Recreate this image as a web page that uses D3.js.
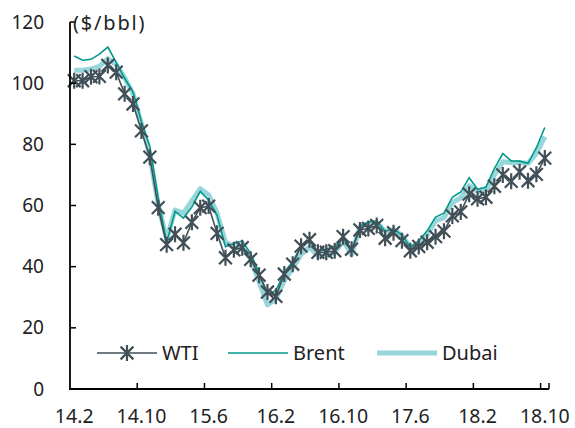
<!DOCTYPE html>
<html>
<head>
<meta charset="utf-8">
<script src="https://cdn.jsdelivr.net/npm/d3@7"></script>
<style>
  body { margin: 0; background: #fff; }
  text { font-family: "Noto Sans", sans-serif; fill: #222; }
</style>
</head>
<body>
<div id="chart"></div>
<script>
var svgWidth = 575;
var svgHeight = 428;

// months 2014.2 .. 2018.10
var months = [];
for (var yr = 14; yr <= 18; yr++) {
  for (var m = 1; m <= 12; m++) {
    if ((yr === 14 && m < 2) || (yr === 18 && m > 10)) continue;
    months.push(yr + "." + m);
  }
}

var tickLabels = ["14.2", "14.10", "15.6", "16.2", "16.10", "17.6", "18.2", "18.10"];
var yTicks = [0, 20, 40, 60, 80, 100, 120];

var wti = [100.8, 100.8, 102.1, 102.2, 105.8, 103.6, 96.5, 93.2, 84.4, 75.8, 59.3,
  47.2, 50.6, 47.8, 54.5, 59.3, 59.8, 50.9, 42.9, 45.5, 46.2, 42.4, 37.2,
  31.7, 30.3, 37.6, 40.8, 46.7, 48.8, 44.7, 44.7, 45.2, 49.8, 45.7, 52.0,
  52.5, 53.5, 49.3, 51.1, 48.5, 45.2, 46.6, 48.0, 49.8, 51.6, 56.6, 57.9,
  63.7, 62.2, 62.7, 66.3, 70.0, 67.9, 71.0, 68.1, 70.2, 75.5];

var brent = [108.9, 107.5, 107.8, 109.5, 111.8, 106.8, 101.6, 97.1, 87.4, 79.4, 62.3,
  47.8, 58.1, 55.9, 59.5, 64.6, 61.7, 56.8, 46.5, 47.6, 48.4, 44.3, 38.0,
  30.7, 32.2, 38.2, 41.6, 46.7, 48.3, 44.9, 45.8, 46.6, 49.5, 44.8, 53.3,
  54.6, 54.9, 51.6, 52.3, 50.3, 46.4, 48.5, 51.7, 56.2, 57.5, 62.7, 64.4,
  69.1, 65.3, 66.0, 72.1, 77.0, 74.6, 74.5, 73.8, 78.9, 85.5];

var dubai = [104.2, 104.2, 104.6, 105.5, 108.0, 106.0, 101.8, 96.6, 86.7, 76.4, 60.2,
  49.0, 58.5, 57.5, 61.5, 65.5, 63.5, 57.5, 48.0, 46.5, 46.5, 42.5, 35.0,
  27.5, 29.5, 35.5, 39.5, 44.0, 46.5, 43.5, 44.0, 44.5, 48.5, 44.0, 53.0,
  54.0, 54.5, 51.5, 52.2, 50.2, 46.2, 47.5, 50.4, 55.0, 56.0, 61.0, 62.5,
  66.5, 64.5, 65.0, 70.0, 74.3, 74.0, 74.0, 73.8, 77.0, 82.5];

var svg = d3.select("#chart")
  .append("svg")
  .attr("width", svgWidth)
  .attr("height", svgHeight);

var x = d3.scaleBand()
  .domain(d3.range(months.length))
  .range([70, 549])
  .padding(0);

var y = d3.scaleLinear()
  .domain([0, 120])
  .range([389, 22]);

var cx = function(i) { return x(i) + x.bandwidth() / 2; };

// lines
var line = d3.line()
  .x(function(d, i) { return cx(i); })
  .y(function(d) { return y(d); });

svg.append("path")
  .datum(dubai)
  .attr("fill", "none")
  .attr("stroke", "#97d6da")
  .attr("stroke-width", 5)
  .attr("stroke-linejoin", "round")
  .attr("d", line);

svg.append("path")
  .datum(brent)
  .attr("fill", "none")
  .attr("stroke", "#00998a")
  .attr("stroke-width", 1.6)
  .attr("d", line);

svg.append("path")
  .datum(wti)
  .attr("fill", "none")
  .attr("stroke", "#414f57")
  .attr("stroke-width", 1.6)
  .attr("d", line);

// star marker (vertical bar + x)
function star(r) {
  var a = r * 0.8;
  return "M0," + (-r) + "L0," + r +
    "M" + (-a) + "," + (-a) + "L" + a + "," + a +
    "M" + (-a) + "," + a + "L" + a + "," + (-a);
}

svg.append("g")
  .selectAll("path")
  .data(wti)
  .enter()
  .append("path")
  .attr("transform", function(d, i) { return "translate(" + cx(i) + "," + y(d) + ")"; })
  .attr("d", star(8))
  .attr("stroke", "#414f57")
  .attr("stroke-width", 2.2)
  .attr("fill", "none");

// axes
svg.append("line")
  .attr("x1", 70).attr("x2", 70)
  .attr("y1", y(120)).attr("y2", y(0))
  .attr("stroke", "#000").attr("stroke-width", 1.8);

svg.append("line")
  .attr("x1", 69).attr("x2", 549)
  .attr("y1", y(0)).attr("y2", y(0))
  .attr("stroke", "#000").attr("stroke-width", 1.8);

svg.append("g")
  .selectAll("line")
  .data(yTicks)
  .enter()
  .append("line")
  .attr("x1", 70).attr("x2", 76)
  .attr("y1", function(d) { return y(d); })
  .attr("y2", function(d) { return y(d); })
  .attr("stroke", "#000").attr("stroke-width", 1.5);

svg.append("g")
  .selectAll("text")
  .data(yTicks)
  .enter()
  .append("text")
  .attr("x", 44)
  .attr("y", function(d) { return y(d); })
  .attr("dy", "0.35em")
  .attr("text-anchor", "end")
  .attr("font-size", "19px")
  .text(function(d) { return d; });

// x ticks at category boundary, label at category center
var tickIdx = tickLabels.map(function(t) { return months.indexOf(t); });

svg.append("g")
  .selectAll("line")
  .data(tickIdx.concat([months.length]).slice(1))
  .enter()
  .append("line")
  .attr("x1", function(d) { return d === months.length ? 549 : x(d); })
  .attr("x2", function(d) { return d === months.length ? 549 : x(d); })
  .attr("y1", y(0)).attr("y2", y(0) - 6)
  .attr("stroke", "#000").attr("stroke-width", 1.5);

svg.append("g")
  .selectAll("text")
  .data(tickLabels)
  .enter()
  .append("text")
  .attr("x", function(d) { return cx(months.indexOf(d)); })
  .attr("y", 423)
  .attr("text-anchor", "middle")
  .attr("font-size", "19.5px")
  .text(function(d) { return d; });

svg.append("text")
  .attr("x", 73)
  .attr("y", 30)
  .attr("font-size", "20px")
  .attr("letter-spacing", "1.8px")
  .text("($/bbl)");

// legend
var legend = [
  { name: "WTI", color: "#414f57", width: 1.6, x: 97, marker: true },
  { name: "Brent", color: "#00998a", width: 1.6, x: 228, marker: false },
  { name: "Dubai", color: "#97d6da", width: 5, x: 377, marker: false }
];

var lg = svg.append("g").selectAll("g")
  .data(legend)
  .enter()
  .append("g")
  .attr("transform", function(d) { return "translate(" + d.x + ",353)"; });

lg.append("line")
  .attr("x1", 0).attr("x2", 60)
  .attr("stroke", function(d) { return d.color; })
  .attr("stroke-width", function(d) { return d.width; });

lg.filter(function(d) { return d.marker; })
  .append("path")
  .attr("transform", "translate(30,0)")
  .attr("d", star(8))
  .attr("stroke", function(d) { return d.color; })
  .attr("stroke-width", 2.2)
  .attr("fill", "none");

lg.append("text")
  .attr("x", 65)
  .attr("dy", "0.35em")
  .attr("font-size", "20px")
  .text(function(d) { return d.name; });
</script>
</body>
</html>
